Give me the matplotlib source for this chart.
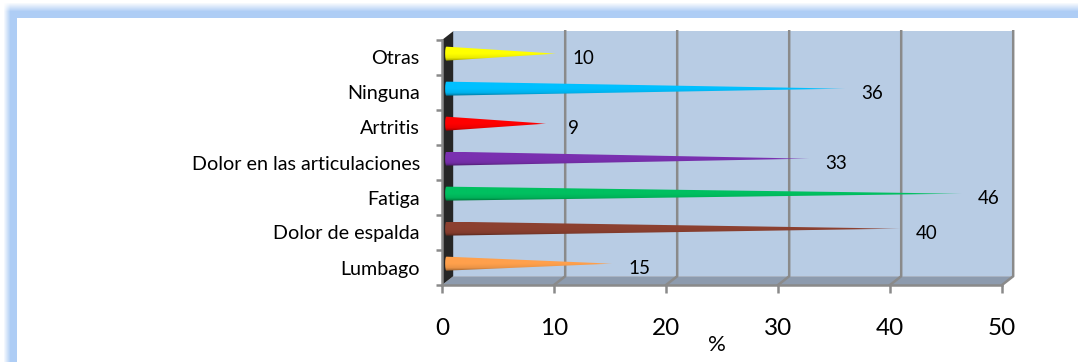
import numpy as np
import matplotlib
matplotlib.use('Agg')
import matplotlib.pyplot as plt
from matplotlib.path import Path
from matplotlib.patches import PathPatch, Polygon
from matplotlib.colors import to_rgb

plt.rcParams['font.family'] = ['Lato', 'DejaVu Sans']

categories = ['Lumbago', 'Dolor de espalda', 'Fatiga', 'Dolor en las articulaciones',
              'Artritis', 'Ninguna', 'Otras']
labels = ['15', '40', '46', '33', '9', '36', '10']
# where the spikes end (a bit past the printed number)
values = [15.2, 40.9, 46.4, 32.8, 9.3, 36.0, 10.2]
colors = ['#ffa04c', '#8c4030', '#00c060', '#7a30b0', '#ff0000', '#00c0ff', '#ffff00']
xticks = [0, 10, 20, 30, 40, 50]

W, H = 1078, 362
fig = plt.figure(figsize=(W / 100, H / 100), dpi=100)

# marco azul de fondo
bg = fig.add_axes([0, 0, 1, 1])
bg.axis('off')
yy, xx = np.mgrid[0:H, 0:W]
alpha = np.clip((xx - 3) / 7, 0, 1) * np.clip((yy - 2) / 9, 0, 1)
alpha[(xx >= 17) & (yy >= 18)] = 0
frame = np.ones((H, W, 3))
blue = np.array(to_rgb('#aecdf5'))
frame = frame * (1 - alpha[..., None]) + blue * alpha[..., None]
bg.imshow(frame, aspect='auto', interpolation='nearest')

ax = fig.add_axes([442 / W, 1 - 285 / H, 560 / W, 245 / H])
ax.patch.set_alpha(0)
ax.set_xlim(0, 50)
ax.set_ylim(0, 7)

# caja 3D
dx, dy = 1.0, 0.25
grey = '#8a8a8a'
ax.add_patch(Polygon([(dx, dy), (50 + dx, dy), (50 + dx, 7 + dy), (dx, 7 + dy)],
                     fc='#b8cce4', ec='none', clip_on=False, zorder=1))
ax.add_patch(Polygon([(0, 0), (50, 0), (50 + dx, dy), (dx, dy)],
                     fc='#8d9bae', ec='none', clip_on=False, zorder=1))
ax.add_patch(Polygon([(0, 0), (dx, dy), (dx, 7 + dy), (0, 7)],
                     fc='#262626', ec='none', clip_on=False, zorder=1))
for t in xticks[1:]:
    ax.plot([t, t + dx, t + dx], [0, dy, 7 + dy], color=grey, lw=1.8, clip_on=False, zorder=2)

# conos
for i, (v, c) in enumerate(zip(values, colors)):
    yc = i + 0.61
    hw = 0.2
    x0 = 0.28
    path = Path([(v, yc), (x0 + 0.12, yc + hw), (x0, yc + hw), (x0, yc), (x0, yc - hw),
                 (x0 + 0.12, yc - hw), (v, yc)],
                [Path.MOVETO, Path.LINETO, Path.CURVE3, Path.CURVE3, Path.CURVE3,
                 Path.CURVE3, Path.LINETO])
    base = np.array(to_rgb(c))
    shade = np.linspace(1, 0, 30)  # 1 arriba, 0 abajo
    factor = np.interp(shade, [0, 0.2, 0.5, 1], [0.6, 0.92, 1.0, 1.0])
    img = np.zeros((30, 200, 4))
    img[..., :3] = (base[None, :] * factor[:, None])[:, None, :]
    img[..., 3] = np.interp(np.linspace(0, 1, 200), [0, 0.9, 1], [1, 1, 0.6])
    im = ax.imshow(img, extent=(x0, v, yc - hw, yc + hw), aspect='auto', origin='upper',
                   interpolation='bilinear', zorder=3)
    patch = PathPatch(path, fc='none', ec='none', transform=ax.transData)
    ax.add_patch(patch)
    im.set_clip_path(patch)
    ax.text(v + 2.4, yc - 0.15, labels[i], ha='center', va='center', fontsize=13.5,
            color='black', zorder=4)

ax.set_xlim(0, 50)
ax.set_ylim(0, 7)

for s in ['top', 'right']:
    ax.spines[s].set_visible(False)
for s in ['left', 'bottom']:
    ax.spines[s].set_color(grey)
    ax.spines[s].set_linewidth(1.8)
    ax.spines[s].set_zorder(2)

ax.set_xticks(xticks)
ax.set_xticklabels(xticks, fontsize=17.5)
ax.tick_params(axis='x', length=6, width=1.8, color=grey, pad=18)
ax.set_yticks(range(8))
ax.set_yticklabels([])
ax.tick_params(axis='y', which='major', length=4, width=1.8, color=grey)
ax.set_yticks(np.arange(7) + 0.5, minor=True)
ax.set_yticklabels(categories, minor=True, fontsize=14.2)
ax.tick_params(axis='y', which='minor', length=0, pad=16)

fig.text(717 / W, 1 - 345 / H, '%', ha='center', va='center', fontsize=16)

fig.savefig('out.png', dpi=100)
